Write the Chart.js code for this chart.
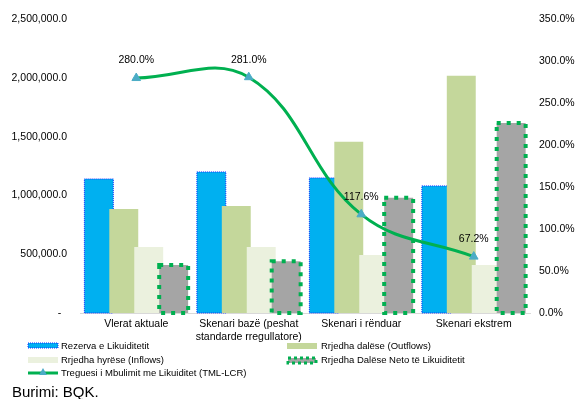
<!DOCTYPE html>
<html><head><meta charset="utf-8">
<script src="https://cdn.jsdelivr.net/npm/chart.js@4/dist/chart.umd.min.js"></script>
<style>html,body{margin:0;padding:0;background:#fff;}#wrap{width:577px;height:399px;position:relative;}</style>
</head><body><div id="wrap"><canvas id="c" width="577" height="399"></canvas></div>
<script>
// ---- data ----
const categories = [["Vlerat aktuale"], ["Skenari bazë (peshat", "standarde rregullatore)"], ["Skenari i rënduar"], ["Skenari ekstrem"]];
const seriesNames = ["Rezerva e Likuiditetit", "Rrjedha dalëse (Outflows)", "Rrjedha hyrëse (Inflows)", "Rrjedha Dalëse Neto të Likuiditetit", "Treguesi i Mbulimit me Likuiditet (TML-LCR)"];
const reserves = [1141000, 1201000, 1150000, 1082000];
const outflows = [886000, 911000, 1457000, 2019000];
const inflows = [562000, 562000, 494000, 409000];
const netOutflows = [409000, 440000, 980000, 1618000];
const lcr = [280.0, 281.0, 117.6, 67.2];
const lcrLabels = ["280.0%", "281.0%", "117.6%", "67.2%"];
const sourceNote = "Burimi: BQK.";

const FONT = "'Liberation Sans', Arial, sans-serif";
const C_BLUE = '#00B0F0', C_OUT = '#C4D79B', C_IN = '#EBF1DE', C_NET = '#A5A5A5', C_GREEN = '#00B050', C_TRI = '#4BACC6';

function fmtLeft(v){
  if (v === 0) return '-  ';
  return v.toLocaleString('en-US', {minimumFractionDigits:1, maximumFractionDigits:1});
}

function strokeBar(ctx, el, color, width, dash){
  const p = el.getProps(['x','y','base','width'], true);
  const left = p.x - p.width/2, top = Math.min(p.y, p.base), h = Math.abs(p.base - p.y);
  ctx.save();
  ctx.strokeStyle = color; ctx.lineWidth = width; ctx.setLineDash(dash); ctx.lineCap = 'butt';
  ctx.strokeRect(left, top, p.width, h);
  ctx.restore();
}

const drawOrderPlugin = {
  id: 'drawOrder',
  beforeDatasetsDraw(chart){
    const ctx = chart.ctx;
    const metas = chart.getSortedVisibleDatasetMetas();
    for (const meta of metas){
      if (typeof chart._drawDataset === 'function') chart._drawDataset(meta); else meta.controller.draw();
      if (meta.index === 0) meta.data.forEach(el => strokeBar(ctx, el, '#1030FF', 1, [1,1]));
      if (meta.index === 3) meta.data.forEach(el => strokeBar(ctx, el, C_GREEN, 4, [4,6]));
    }
    return false;
  },
  afterDraw(chart){
    const ctx = chart.ctx;
    // data labels
    const lineMeta = chart.getDatasetMeta(4);
    ctx.save();
    ctx.font = '10.5px ' + FONT; ctx.fillStyle = '#000'; ctx.textAlign = 'center'; ctx.textBaseline = 'middle';
    lineMeta.data.forEach((pt, i) => { ctx.fillText(lcrLabels[i], pt.x, pt.y - 17.5); });
    ctx.restore();
    // legend
    ctx.save();
    ctx.font = '9.5px ' + FONT; ctx.fillStyle = '#000'; ctx.textAlign = 'left'; ctx.textBaseline = 'middle';
    ctx.fillStyle = C_BLUE; ctx.fillRect(28, 343, 30, 5);
    ctx.strokeStyle = '#1030FF'; ctx.lineWidth = 1; ctx.setLineDash([1,1]); ctx.strokeRect(28, 343, 30, 5); ctx.setLineDash([]);
    ctx.fillStyle = '#000'; ctx.fillText(seriesNames[0], 61, 346);
    ctx.fillStyle = C_OUT; ctx.fillRect(287, 343, 30, 6);
    ctx.fillStyle = '#000'; ctx.fillText(seriesNames[1], 321, 346);
    ctx.fillStyle = C_IN; ctx.fillRect(28, 357, 30, 6);
    ctx.fillStyle = '#000'; ctx.fillText(seriesNames[2], 61, 360);
    ctx.fillStyle = C_NET; ctx.fillRect(288, 358, 28, 5);
    ctx.strokeStyle = C_GREEN; ctx.lineWidth = 3; ctx.setLineDash([3,3]); ctx.strokeRect(288, 358, 28, 5); ctx.setLineDash([]);
    ctx.fillStyle = '#000'; ctx.fillText(seriesNames[3], 321, 360);
    ctx.strokeStyle = C_GREEN; ctx.lineWidth = 3; ctx.beginPath(); ctx.moveTo(28, 373); ctx.lineTo(58, 373); ctx.stroke();
    ctx.fillStyle = C_TRI; ctx.beginPath(); ctx.moveTo(43, 368); ctx.lineTo(47, 375); ctx.lineTo(39, 375); ctx.closePath(); ctx.fill();
    ctx.fillStyle = '#000'; ctx.fillText(seriesNames[4], 61, 373);
    ctx.font = '15px ' + FONT; ctx.textBaseline = 'alphabetic';
    ctx.fillText(sourceNote, 12, 397);
    ctx.restore();
  }
};

Chart.defaults.font.family = FONT;
Chart.defaults.font.size = 10.5;
Chart.defaults.color = '#000';

const barCommon = {categoryPercentage: 0.887, barPercentage: 1.16, borderWidth: 0, yAxisID: 'y'};

new Chart(document.getElementById('c'), {
  data: {
    labels: categories,
    datasets: [
      Object.assign({type:'bar', label: seriesNames[0], data: reserves, backgroundColor: C_BLUE}, barCommon),
      Object.assign({type:'bar', label: seriesNames[1], data: outflows, backgroundColor: C_OUT}, barCommon),
      Object.assign({type:'bar', label: seriesNames[2], data: inflows, backgroundColor: C_IN}, barCommon),
      Object.assign({type:'bar', label: seriesNames[3], data: netOutflows, backgroundColor: C_NET}, barCommon),
      {type:'line', label: seriesNames[4], data: lcr, yAxisID: 'y1', borderColor: C_GREEN, borderWidth: 3,
       tension: 0.4, pointStyle: 'triangle', pointRadius: 5, pointBorderWidth: 1,
       pointBackgroundColor: C_TRI, pointBorderColor: C_TRI, fill: false}
    ]
  },
  options: {
    responsive: false, animation: false,
    layout: {padding: {top: 19, left: 0, right: 0, bottom: 0}},
    plugins: {legend: {display: false}, tooltip: {enabled: false}},
    scales: {
      x: {
        grid: {display: false, drawTicks: false},
        border: {display: true, color: '#D9D9D9', width: 1},
        ticks: {padding: 5, maxRotation: 0, autoSkip: false, font: {size: 10.5}},
        afterFit(s){ s.height = 86; }
      },
      y: {
        position: 'left', min: 0, max: 2500000,
        grid: {display: false, drawTicks: false}, border: {display: false},
        ticks: {stepSize: 500000, padding: 13, callback: v => fmtLeft(v)},
        afterFit(s){ s.width = 80; }
      },
      y1: {
        position: 'right', min: 0, max: 350,
        grid: {display: false, drawTicks: false}, border: {display: false},
        ticks: {stepSize: 50, padding: 9, callback: v => v.toFixed(1) + '%'},
        afterFit(s){ s.width = 47; }
      }
    }
  },
  plugins: [drawOrderPlugin]
});
</script></body></html>
